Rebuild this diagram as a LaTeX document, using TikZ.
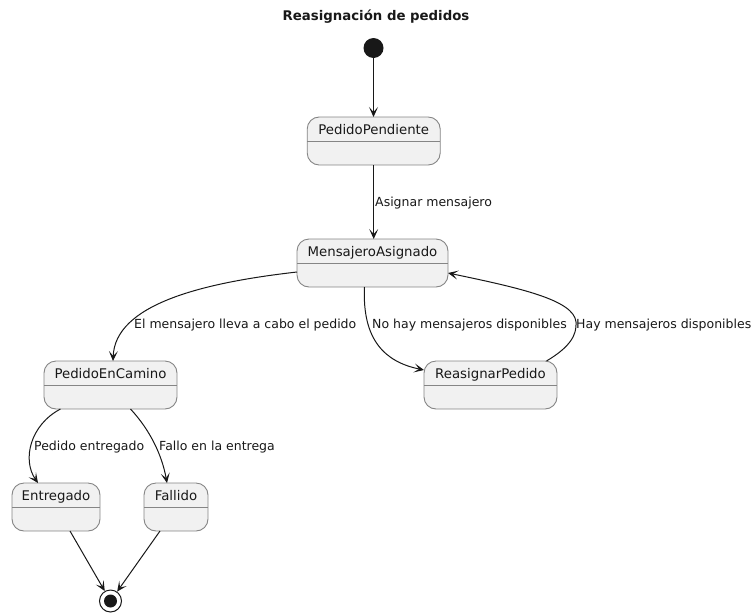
\documentclass[tikz,border=0pt]{standalone}
\usepackage{fontspec}
\setmainfont{DejaVu Sans}
\usetikzlibrary{arrows.meta}
\definecolor{statefill}{HTML}{F1F1F1}
\definecolor{ink}{HTML}{181818}
\definecolor{edgeline}{HTML}{858585}
\tikzset{
  stateshape/.style={draw=edgeline, fill=statefill, line width=0.9pt,
    rounded corners=12pt, minimum height=48pt, inner sep=0pt, outer sep=0pt},
  statename/.style={anchor=base, inner sep=0pt, text=ink,
    font=\fontsize{13.3pt}{16pt}\selectfont},
  divider/.style={draw=edgeline, line width=0.9pt},
  transition/.style={draw=ink, line width=1pt,
    -{Stealth[length=10pt,width=9pt,inset=5pt]}},
  tlabel/.style={anchor=base west, inner sep=0pt, text=ink,
    font=\fontsize{12.5pt}{15pt}\selectfont},
}
\newcommand{\statebox}[5]{%
  \node[stateshape, minimum width=#4pt] (#1) at (#2,#3) {};
  \node[statename] (#1-name) at ([yshift=-17pt]#1.north) {#5};
  \draw[divider] ([yshift=-24.5pt]#1.north west) -- ([yshift=-24.5pt]#1.north east);
}
\begin{document}
\begin{tikzpicture}[x=1pt,y=-1pt]
\useasboundingbox (0,0) rectangle (751,613);

% title
\node[anchor=base, inner sep=0pt, text=ink,
  font=\fontsize{13.3pt}{16pt}\selectfont\bfseries] (title) at (376,20)
  {Reasignación de pedidos};

% start and end pseudo states
\node[circle, fill=ink, minimum size=20pt, inner sep=0pt] (st) at (373.5,48) {};
\node[circle, draw=ink, fill=white, line width=1pt, minimum size=22pt,
  inner sep=0pt] (fin) at (110.5,601) {};
\fill[ink] (fin.center) circle (6.5pt);

% states
\statebox{pp}{373.7}{141}{133}{PedidoPendiente}
\statebox{ma}{372.5}{263}{151}{MensajeroAsignado}
\statebox{pc}{110.5}{385}{133}{PedidoEnCamino}
\statebox{rp}{490.5}{385}{133}{ReasignarPedido}
\statebox{en}{56}{507}{88}{Entregado}
\statebox{fa}{176}{507}{64}{Fallido}

% transitions
\draw[transition] (st.south) -- (st.south |- pp.north);
\draw[transition] (pp.south) -- (pp.south |- ma.north);
\draw[transition] ([yshift=-9pt]ma.west)
  .. controls (200,283) and (115,305) .. ([xshift=2.5pt]pc.north);
\draw[transition] ([xshift=-8pt]ma.south)
  .. controls (362,340) and (385,362) .. ([yshift=15pt]rp.west);
\draw[transition] ([xshift=56pt]rp.north)
  .. controls (570,347) and (577,335) .. (576,322)
  .. controls (574,300) and (520,288) .. ([yshift=-10pt]ma.east);
\draw[transition] ([xshift=-50pt]pc.south)
  .. controls (30,425) and (22,460) .. ([xshift=-18pt]en.north);
\draw[transition] ([xshift=20pt]pc.south)
  .. controls (150,430) and (162,455) .. ([xshift=-9pt]fa.north);
\draw[transition] ([xshift=14pt]en.south) -- (fin);
\draw[transition] ([xshift=-16pt]fa.south) -- (fin);

% transition labels
\node[tlabel] (l-asignar) at (375,206) {Asignar mensajero};
\node[tlabel] (l-lleva) at (134,328) {El mensajero lleva a cabo el pedido};
\node[tlabel] (l-nohay) at (372,328) {No hay mensajeros disponibles};
\node[tlabel] (l-hay) at (576,328) {Hay mensajeros disponibles};
\node[tlabel] (l-entregado) at (34,450) {Pedido entregado};
\node[tlabel] (l-fallo) at (159,450) {Fallo en la entrega};
\end{tikzpicture}
\end{document}
